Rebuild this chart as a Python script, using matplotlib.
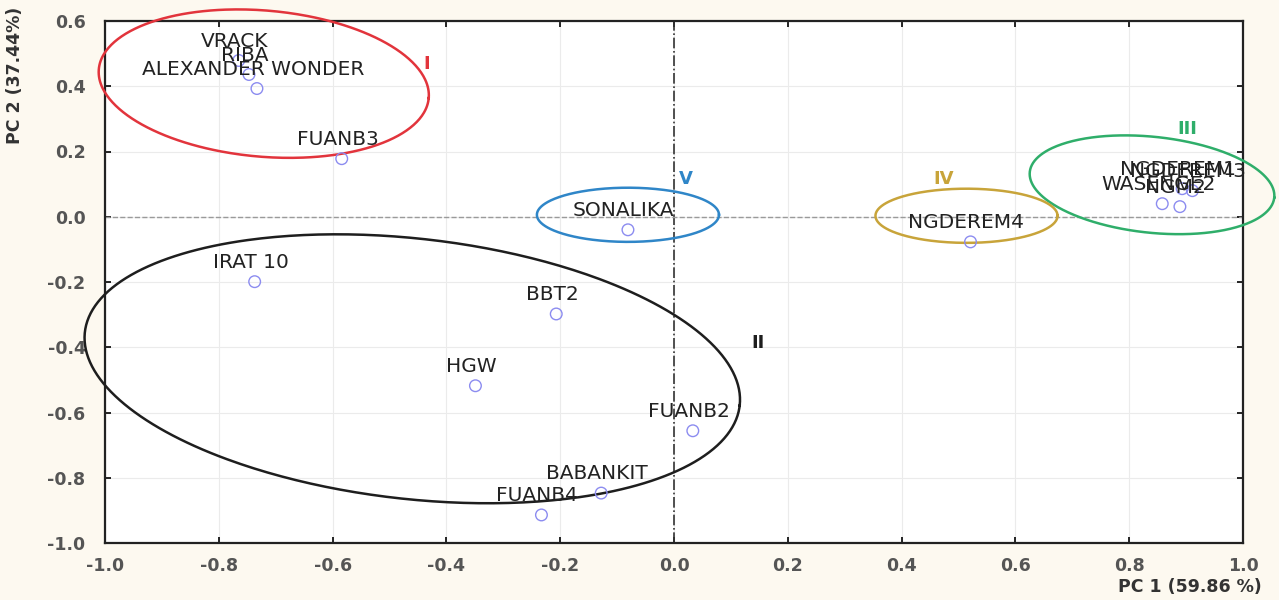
import numpy as np
import matplotlib
matplotlib.use("Agg")
import matplotlib.pyplot as plt

# genotype scores on the first two principal components
names = ["VRACK", "RIBA", "ALEXANDER WONDER", "FUANB3", "SONALIKA", "IRAT 10",
         "BBT2", "HGW", "FUANB2", "BABANKIT", "FUANB4", "NGDEREM4",
         "WASENGE2", "NGM2", "NGDEREM1", "NGDEREM3"]
pc1 = [-0.765, -0.747, -0.733, -0.584, -0.081, -0.737,
       -0.207, -0.349, 0.033, -0.128, -0.233, 0.521,
       0.858, 0.889, 0.893, 0.911]
pc2 = [0.479, 0.436, 0.393, 0.178, -0.040, -0.199,
       -0.298, -0.518, -0.656, -0.847, -0.914, -0.077,
       0.040, 0.031, 0.086, 0.080]

# cluster groups: label, label position, ellipse centre
groups = ["I", "II", "III", "IV", "V"]
group_label_x = [-0.435, 0.147, 0.902, 0.474, 0.021]
group_label_y = [0.469, -0.387, 0.270, 0.117, 0.117]
group_cx = [-0.721, -0.460, 0.840, 0.514, -0.081]
group_cy = [0.408, -0.466, 0.098, 0.003, 0.006]
group_colors = ["#e2343c", "#1e1e1e", "#2fae6a", "#c8a43a", "#2f86c8"]

xticks = [-1.0, -0.8, -0.6, -0.4, -0.2, 0.0, 0.2, 0.4, 0.6, 0.8, 1.0]
yticks = [-1.0, -0.8, -0.6, -0.4, -0.2, 0.0, 0.2, 0.4, 0.6]

fig = plt.figure(figsize=(12.79, 6.0), dpi=100, facecolor="#fdf9f0")
ax = fig.add_axes([0.0821, 0.095, 0.8898, 0.870])
ax.set_facecolor("white")
ax.set_xlim(-1.0, 1.0)
ax.set_ylim(-1.0, 0.6)
ax.set_xticks(xticks)
ax.set_yticks(yticks)
ax.set_xticklabels(["%.1f" % v for v in xticks])
ax.set_yticklabels(["%.1f" % v for v in yticks])
ax.grid(True, color="#ebebeb", lw=0.8)
ax.set_axisbelow(True)
ax.tick_params(direction="in", length=4, width=1.2, top=True, right=True,
               labelsize=12.5, labelcolor="#555555")
ax.tick_params(axis="x", pad=10)
ax.tick_params(axis="y", pad=14)
for lab in ax.get_xticklabels() + ax.get_yticklabels():
    lab.set_fontweight("bold")
for s in ax.spines.values():
    s.set_linewidth(1.6)
    s.set_color("#222222")

ax.axvline(0, color="#333333", lw=1.2, ls="-.", zorder=1)
ax.axhline(0, color="#9a9a9a", lw=1.0, ls="--", zorder=1)

# ellipses drawn in screen space so the tilt looks right
sx = ax.bbox.width / 2.0
sy = ax.bbox.height / 1.6
shapes = [(0.291, 0.224, 5.0), (0.579, 0.399, 6.4), (0.216, 0.147, 6.0),
          (0.160, 0.083, 0.0), (0.160, 0.083, 0.0)]
t = np.linspace(0, 2 * np.pi, 400)
for i, g in enumerate(groups):
    a, b, tilt = shapes[i]
    th = np.deg2rad(-tilt)
    u = a * sx * np.cos(t)
    v = b * sy * np.sin(t)
    dx = u * np.cos(th) - v * np.sin(th)
    dy = u * np.sin(th) + v * np.cos(th)
    ax.plot(group_cx[i] + dx / sx, group_cy[i] + dy / sy, color=group_colors[i],
            lw=1.8, clip_on=False, zorder=3)
    ax.text(group_label_x[i], group_label_y[i], g, color=group_colors[i],
            fontsize=13, fontweight="bold", ha="center", va="center")

ax.scatter(pc1, pc2, s=70, facecolors="none", edgecolors="#8c8cf0",
           linewidths=1.0, zorder=4, clip_on=False)
for n, x, y in zip(names, pc1, pc2):
    ax.annotate(n, (x, y), xytext=(-3, 14), textcoords="offset points",
                ha="center", va="center", fontsize=14.5, color="#222222",
                zorder=5, annotation_clip=False)

fig.text(15 / 1279, 1 - 75 / 600, "PC 2 (37.44%)", rotation=90, ha="center",
         va="center", fontsize=12.5, fontweight="bold", color="#333333")
fig.text(1190 / 1279, 1 - 587 / 600, "PC 1 (59.86 %)", ha="center",
         va="center", fontsize=12.5, fontweight="bold", color="#333333")

fig.savefig("out.png", dpi=100, facecolor=fig.get_facecolor())
